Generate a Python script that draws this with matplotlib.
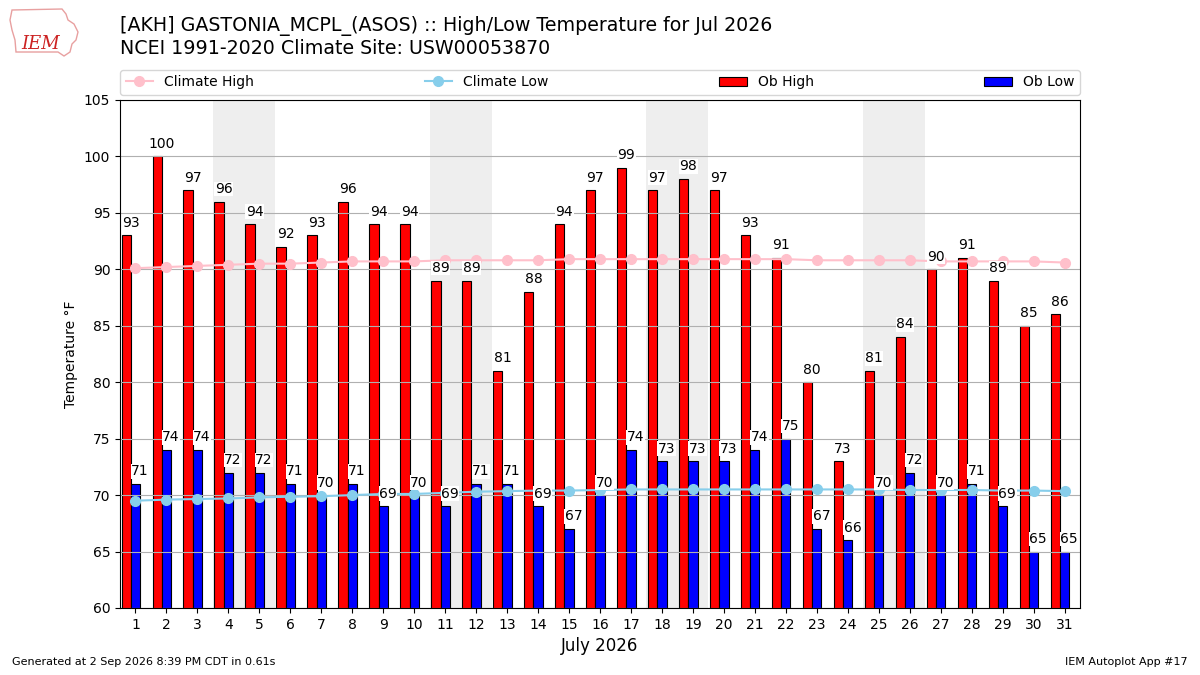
import matplotlib
matplotlib.use("Agg")
import matplotlib.pyplot as plt
from matplotlib.patches import Polygon
import numpy as np

days = list(range(1, 32))
ob_high = [93, 100, 97, 96, 94, 92, 93, 96, 94, 94, 89, 89, 81, 88, 94, 97,
           99, 97, 98, 97, 93, 91, 80, 73, 81, 84, 90, 91, 89, 85, 86]
ob_low = [71, 74, 74, 72, 72, 71, 70, 71, 69, 70, 69, 71, 71, 69, 67, 70,
          74, 73, 73, 73, 74, 75, 67, 66, 70, 72, 70, 71, 69, 65, 65]
clim_high = [90.1, 90.2, 90.3, 90.4, 90.5, 90.5, 90.6, 90.7, 90.7, 90.7, 90.8,
             90.8, 90.8, 90.8, 90.9, 90.9, 90.9, 90.9, 90.9, 90.9, 90.9, 90.9,
             90.8, 90.8, 90.8, 90.8, 90.7, 90.7, 90.7, 90.7, 90.6]
clim_low = [69.5, 69.6, 69.65, 69.7, 69.8, 69.85, 69.9, 70.0, 70.1, 70.1, 70.2,
            70.3, 70.35, 70.4, 70.4, 70.45, 70.5, 70.5, 70.5, 70.5, 70.5, 70.5,
            70.5, 70.5, 70.5, 70.45, 70.45, 70.45, 70.4, 70.4, 70.35]
weekends = [(4, 5), (11, 12), (18, 19), (25, 26)]

x = np.array(days)
fig = plt.figure(figsize=(12, 6.75), dpi=100)
ax = fig.add_axes([0.1, 0.0993, 0.8, 0.7526])

for a, b in weekends:
    ax.axvspan(a - 0.5, b + 0.5, color="#eeeeee", zorder=0.5, lw=0)

ax.yaxis.grid(True, color="#b0b0b0", lw=0.8)

ax.bar(x - 0.3, ob_high, width=0.3, color="red", edgecolor="black", lw=0.8,
       label="Ob High", zorder=1)
ax.bar(x, ob_low, width=0.3, color="blue", edgecolor="black", lw=0.8,
       label="Ob Low", zorder=1)

ax.plot(x, clim_high, color="pink", marker="o", ms=7, lw=1.5,
        label="Climate High", zorder=2)
ax.plot(x, clim_low, color="skyblue", marker="o", ms=7, lw=1.5,
        label="Climate Low", zorder=2)

for d, h, l in zip(days, ob_high, ob_low):
    ax.annotate(str(h), (d - 0.15, h), xytext=(0, 4), textcoords="offset points",
                ha="center", va="bottom", fontsize=10, zorder=4,
                bbox=dict(boxstyle="square,pad=0.03", fc="white", ec="none"))
    ax.annotate(str(l), (d + 0.15, l), xytext=(0, 4), textcoords="offset points",
                ha="center", va="bottom", fontsize=10, zorder=4,
                bbox=dict(boxstyle="square,pad=0.03", fc="white", ec="none"))

ax.set_xlim(0.5, 31.5)
ax.set_ylim(60, 105)
ax.set_xticks(days)
ax.set_yticks(range(60, 106, 5))
ax.set_ylabel("Temperature \u00b0F")
ax.set_xlabel("July 2026", fontsize=12)

handles, labels = ax.get_legend_handles_labels()
order = [labels.index(n) for n in ["Climate High", "Climate Low", "Ob High", "Ob Low"]]
ax.legend([handles[i] for i in order], [labels[i] for i in order],
          loc="lower left", bbox_to_anchor=(0, 1.01, 1, 0.05), ncol=4,
          mode="expand", borderaxespad=0, fontsize=10)

fig.text(0.1, 0.962, "[AKH] GASTONIA_MCPL_(ASOS) :: High/Low Temperature for Jul 2026",
         fontsize=13.7, va="center", ha="left")
fig.text(0.1, 0.928, "NCEI 1991-2020 Climate Site: USW00053870",
         fontsize=13.7, va="center", ha="left")
fig.text(0.01, 0.015, "Generated at 2 Sep 2026 8:39 PM CDT in 0.61s", fontsize=8)
fig.text(0.99, 0.015, "IEM Autoplot App #17", fontsize=8, ha="right")

# simple logo: Iowa-like outline with IEM text
outline_px = [(12, 10), (62, 9), (66, 14), (68, 20), (74, 24), (78, 32),
              (76, 40), (72, 44), (70, 52), (64, 56), (58, 52), (16, 52),
              (15, 40), (12, 30), (10, 20)]
logo = Polygon([(px / 1200, 1 - py / 675) for px, py in outline_px],
               closed=True, fill=False, ec="#e8a0a0", lw=1.0,
               transform=fig.transFigure)
fig.patches.append(logo)
fig.text(0.0175, 0.935, "IEM", fontsize=13, color="#cc2222",
         family="DejaVu Serif", style="italic", va="center")

fig.savefig("out.png", dpi=100)
